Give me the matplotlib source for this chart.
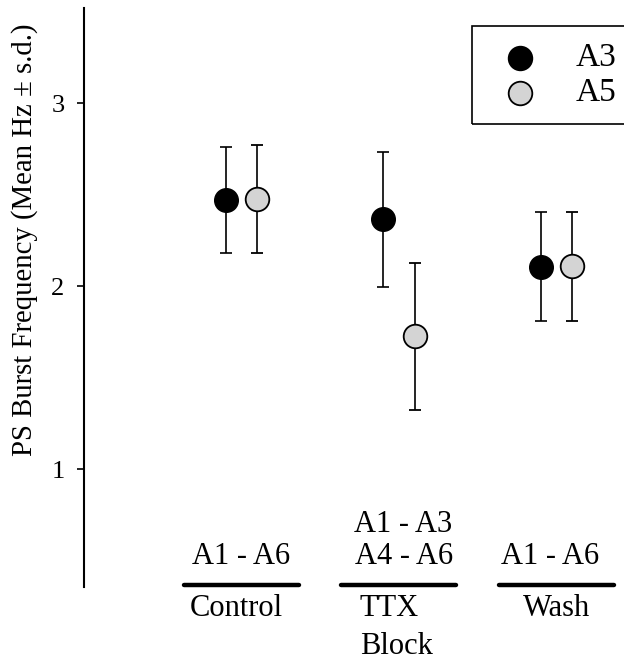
import matplotlib.pyplot as plt
from matplotlib.patches import Rectangle
from matplotlib.lines import Line2D

plt.rcParams['font.family'] = ['Liberation Serif', 'DejaVu Serif']

conditions = ['Control', 'TTX', 'Wash']
segments = ['A1 - A6', 'A4 - A6', 'A1 - A6']
a3_mean = [2.47, 2.365, 2.106]
a3_sd = [0.29, 0.37, 0.297]
a5_mean = [2.475, 1.725, 2.108]
a5_sd = [0.295, 0.40, 0.297]

fig = plt.figure(figsize=(6.24, 6.6), dpi=100)
ax = fig.add_axes([84 / 624, 73 / 660, 540 / 624, 579 / 660])

xs = [1, 2, 3]
off = 0.1
ax.errorbar([x - off for x in xs], a3_mean, yerr=a3_sd, fmt='o', color='black',
            ms=17, mfc='black', mec='black', ecolor='black', elinewidth=1.2,
            capsize=4, capthick=1.2, zorder=3)
ax.errorbar([x + off for x in xs], a5_mean, yerr=a5_sd, fmt='o', color='black',
            ms=17, mfc='#d4d4d4', mec='black', mew=1.3, ecolor='black',
            elinewidth=1.2, capsize=4, capthick=1.2, zorder=3)

ax.set_xlim(0, 3.43)
ax.set_ylim(0.355, 3.52)
ax.set_yticks([1, 2, 3])
ax.set_xticks([])
for s in ['top', 'right', 'bottom']:
    ax.spines[s].set_visible(False)
ax.spines['left'].set_linewidth(1.5)
ax.tick_params(axis='y', direction='out', length=5, width=1.2, pad=9, labelsize=19)

# group labels below the points (y in axes fraction)
tr = ax.get_xaxis_transform()
def ay(p):
    return (587 - p) / 579

seg_dx = [0.0, 0.03, -0.04]
cond_dx = [-0.035, -0.06, 0.0]
for x, seg, cond, sdx, cdx in zip(xs, segments, conditions, seg_dx, cond_dx):
    ax.plot([x - 0.365, x + 0.365], [ay(585)] * 2, color='black', lw=3.2,
            solid_capstyle='round', clip_on=False, transform=tr)
    ax.text(x + sdx, ay(557), seg, ha='center', va='center', fontsize=22,
            clip_on=False, transform=tr)
    ax.text(x + cdx, ay(609), cond, ha='center', va='center', fontsize=22,
            clip_on=False, transform=tr)
ax.text(2.03, ay(524), 'A1 - A3', ha='center', va='center', fontsize=22,
        clip_on=False, transform=tr)
ax.text(1.985, ay(646), 'Block', ha='center', va='center', fontsize=22,
        clip_on=False, transform=tr)

fig.text(25 / 624, 1 - 240 / 660, 'PS Burst Frequency (Mean Hz \u00b1 s.d.)',
         rotation=90, ha='center', va='center', fontsize=20.7)

# legend box running off the right edge
fig.add_artist(Rectangle((471.7 / 624, 1 - 124.3 / 660), 0.4, 98.6 / 660,
                         transform=fig.transFigure, fill=False, ec='black', lw=1.2))
for yy, fc, lab in [(58, 'black', 'A3'), (93, '#d4d4d4', 'A5')]:
    fig.add_artist(Line2D([520 / 624], [1 - yy / 660], marker='o', ms=17,
                          mfc=fc, mec='black', mew=1.3, transform=fig.transFigure))
    fig.text(576 / 624, 1 - yy / 660, lab, ha='left', va='center', fontsize=24)

fig.savefig('out.png', dpi=100)
